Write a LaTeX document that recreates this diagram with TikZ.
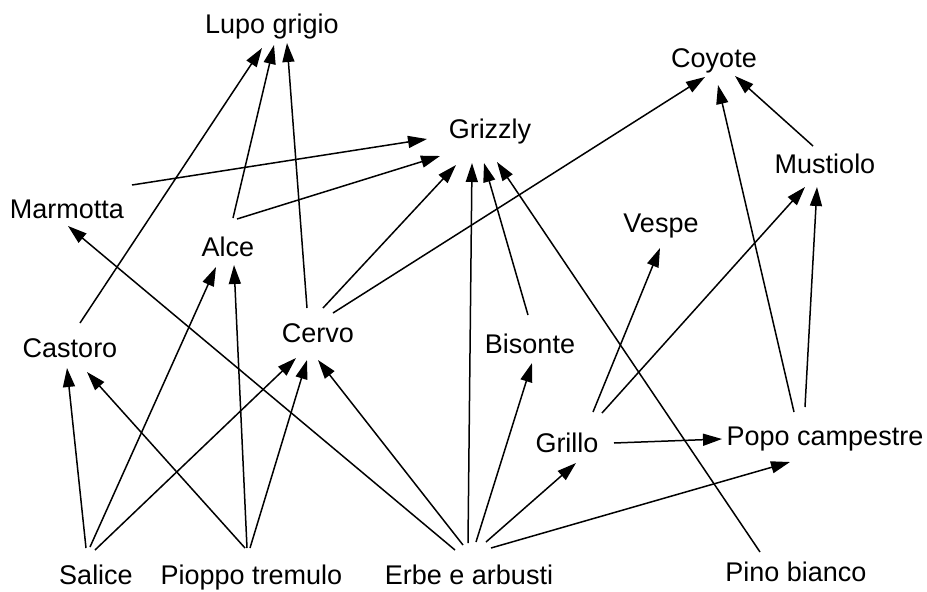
\documentclass[tikz,border=0pt]{standalone}
\usepackage{fontspec}
\setmainfont{Liberation Sans}
\usetikzlibrary{arrows.meta}
\tikzset{
  lbl/.style={anchor=base,inner sep=0pt,font=\fontsize{27}{32}\selectfont},
  arr/.style={line width=1.5pt,-{Triangle[length=19pt,width=12pt]}}
}
\newcommand\E[4]{\draw[arr] ([shift={(#2)}]#1.base) -- ([shift={(#4)}]#3.base);}
\begin{document}
\begin{tikzpicture}[x=1pt,y=-1pt]
\useasboundingbox[fill=white] (0,0) rectangle (927,592);
\node[lbl] (lupo) at (272,33) {Lupo grigio};
\node[lbl] (coyote) at (714,67) {Coyote};
\node[lbl] (grizzly) at (490,138) {Grizzly};
\node[lbl] (mustiolo) at (825,173) {Mustiolo};
\node[lbl] (marmotta) at (67,218) {Marmotta};
\node[lbl] (vespe) at (661,232) {Vespe};
\node[lbl] (alce) at (228,256) {Alce};
\node[lbl] (cervo) at (318,342) {Cervo};
\node[lbl] (castoro) at (70,357) {Castoro};
\node[lbl] (bisonte) at (530,353) {Bisonte};
\node[lbl] (popo) at (825,445) {Popo campestre};
\node[lbl] (grillo) at (567,452) {Grillo};
\node[lbl] (salice) at (96,584) {Salice};
\node[lbl] (pioppo) at (251.5,584) {Pioppo tremulo};
\node[lbl] (erbe) at (469,584) {Erbe e arbusti};
\node[lbl] (pino) at (796,581) {Pino bianco};
\E{castoro}{10,-34}{lupo}{-10,15}
\E{alce}{5,-38}{lupo}{2,12}
\E{cervo}{-11,-34}{lupo}{15,10}
\E{marmotta}{65,-33}{grizzly}{-63,1}
\E{alce}{9,-37}{grizzly}{-50,18}
\E{erbe}{-14,-34}{marmotta}{1,8}
\E{salice}{-6,-37}{alce}{-12,11}
\E{pioppo}{-4.5,-36}{alce}{6,9}
\E{cervo}{5,-34}{grizzly}{-34,27}
\E{cervo}{15,-29}{coyote}{-9,10}
\E{erbe}{-1,-41}{grizzly}{-18,25}
\E{bisonte}{-2,-38}{grizzly}{-6,25}
\E{pino}{-36,-29}{grizzly}{7,24}
\E{popo}{-31,-33}{coyote}{4,18}
\E{mustiolo}{-12,-27}{coyote}{21,9}
\E{grillo}{35,-39}{mustiolo}{-20,14}
\E{popo}{-20,-38}{mustiolo}{-8,14}
\E{grillo}{26,-40}{vespe}{-1,16}
\E{grillo}{47,-9}{popo}{-103,-6}
\E{erbe}{22,-36}{popo}{-35,17}
\E{erbe}{17,-42}{grillo}{9,11}
\E{erbe}{7,-42}{bisonte}{2,10}
\E{erbe}{-6,-39}{cervo}{0,18}
\E{salice}{-10,-36}{castoro}{-3,11}
\E{pioppo}{-6.5,-36}{castoro}{17,15}
\E{salice}{-1,-34}{cervo}{-22,16}
\E{pioppo}{-1.5,-36}{cervo}{-11,18}
\end{tikzpicture}
\end{document}
